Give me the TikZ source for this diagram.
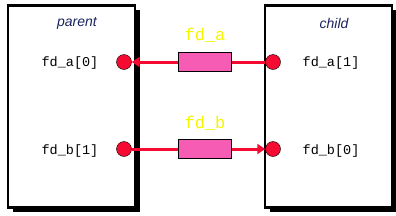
\documentclass[tikz,border=0pt]{standalone}
\usepackage{fontspec}
\newfontfamily\cour{Liberation Mono}
\newfontfamily\arialf{Liberation Sans}
\usetikzlibrary{arrows.meta}
\definecolor{dotred}{HTML}{F50A32}
\definecolor{pinkbox}{HTML}{F75CB4}
\definecolor{navy}{HTML}{1A2560}
\definecolor{yel}{HTML}{F5F500}
\begin{document}
\begin{tikzpicture}[x=1pt,y=-1pt,
  proc/.style={draw=black,line width=2.2pt,fill=white,minimum width=127pt,minimum height=202pt,inner sep=0pt},
  shadow/.style={fill=black,minimum width=127pt,minimum height=202pt,inner sep=0pt},
  fddot/.style={circle,fill=dotred,draw=black,line width=0.4pt,minimum size=15pt,inner sep=0pt},
  pipebox/.style={draw=black,line width=1.2pt,fill=pinkbox,minimum width=53pt,minimum height=19pt,inner sep=0pt},
  conn/.style={draw=dotred,line width=3pt},
  fdtxt/.style={font=\cour\fontsize{13.5}{15}\selectfont},
  ptxt/.style={font=\arialf\itshape\fontsize{14}{16}\selectfont,text=navy},
  pipetxt/.style={font=\cour\fontsize{17}{19}\selectfont,text=yel}]
\useasboundingbox (0,0) rectangle (396,215);
\node[shadow] (ps) at (76.5,110.5) {};
\node[proc] (parent) at (71.5,106.5) {};
\node[shadow] (cs) at (333.5,110.5) {};
\node[proc] (child) at (328.5,106.5) {};
\node[ptxt] (pl) at (77,23) {parent};
\node[ptxt] (cl) at (334,23) {child};
\node[fdtxt] (pa) at (70,63) {fd\_a[0]};
\node[fdtxt] (pb) at (70,151) {fd\_b[1]};
\node[fdtxt] (ca) at (331,63) {fd\_a[1]};
\node[fdtxt] (cb) at (331,151) {fd\_b[0]};
\node[pipebox] (ra) at (205,62) {};
\node[pipebox] (rb) at (205,149) {};
\node[pipetxt] (la) at (205,35) {fd\_a};
\node[pipetxt] (lb) at (205,123) {fd\_b};
\node[fddot] (d1) at (124,62) {};
\node[fddot] (d2) at (124,149) {};
\node[fddot] (d3) at (273,62) {};
\node[fddot] (d4) at (273,149) {};
\draw[conn,-{Triangle[length=8pt,width=10pt]}] (ra.west) -- (d1.east);
\draw[conn] (d3.west) -- (ra.east);
\draw[conn] (d2.east) -- (rb.west);
\draw[conn,-{Triangle[length=8pt,width=10pt]}] (rb.east) -- (d4.west);
\end{tikzpicture}
\end{document}
